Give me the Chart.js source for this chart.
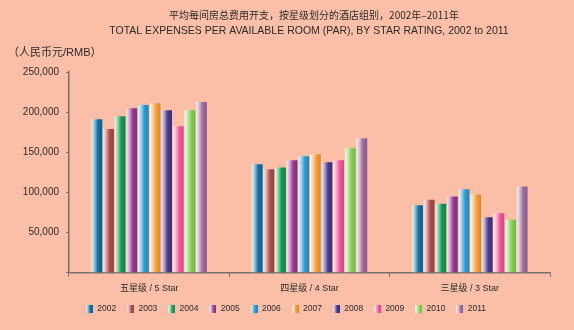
<!DOCTYPE html>
<html>
<head>
<meta charset="utf-8">
<script src="https://cdn.jsdelivr.net/npm/chart.js@4/dist/chart.umd.min.js"></script>
<style>
  html, body { margin: 0; padding: 0; background: #fbbea7; }
  #wrap { width: 574px; height: 330px; }
</style>
</head>
<body>
<div id="wrap"><canvas id="parChart"></canvas></div>
<script>
// categories / series
const categories = ["五星级 / 5 Star", "四星级 / 4 Star", "三星级 / 3 Star"];
const years = ["2002", "2003", "2004", "2005", "2006", "2007", "2008", "2009", "2010", "2011"];

// values per year: [5 star, 4 star, 3 star]  (RMB)
const v2002 = [191000, 135000, 84000];
const v2003 = [179000, 129000, 91000];
const v2004 = [195000, 131000, 86000];
const v2005 = [205000, 140000, 95000];
const v2006 = [209000, 145000, 104000];
const v2007 = [211000, 147500, 97500];
const v2008 = [202500, 137500, 69000];
const v2009 = [182500, 140000, 74000];
const v2010 = [202500, 155000, 66000];
const v2011 = [212500, 167500, 107500];
const seriesValues = [v2002, v2003, v2004, v2005, v2006, v2007, v2008, v2009, v2010, v2011];

const seriesColors = ["#1470a2", "#ad4c4a", "#17994f", "#973a90", "#2c9bd2",
                      "#f99c3c", "#4b3889", "#f25796", "#86d154", "#a06b9c"];

const yTicks = [0, 50000, 100000, 150000, 200000, 250000];

const titleZh = "平均每间房总费用开支，按星级划分的酒店组别，2002年–2011年";
const titleEn = "TOTAL EXPENSES PER AVAILABLE ROOM (PAR), BY STAR RATING, 2002 to 2011";
const unitText = "（人民币元/RMB）";

const textColor = "#2b2b2b";
const axisColor = "#7a6f6a";

function hexToRgb(h) {
  const n = parseInt(h.slice(1), 16);
  return [(n >> 16) & 255, (n >> 8) & 255, n & 255];
}
function mix(hex, t) {           // t = share of white
  const [r, g, b] = hexToRgb(hex);
  return `rgb(${Math.round(r + (255 - r) * t)},${Math.round(g + (255 - g) * t)},${Math.round(b + (255 - b) * t)})`;
}
function shade(hex, f) {
  const [r, g, b] = hexToRgb(hex);
  return `rgb(${Math.round(r * f)},${Math.round(g * f)},${Math.round(b * f)})`;
}
function addStops(g, base) {
  g.addColorStop(0, mix(base, 0.9));
  g.addColorStop(0.25, mix(base, 0.6));
  g.addColorStop(0.6, base);
  g.addColorStop(1, shade(base, 0.85));
}

// bars get a left-to-right gradient, like the original
function barFill(c) {
  const base = seriesColors[c.datasetIndex];
  const el = c.element;
  if (!el || !(el.width > 0)) return base;
  const g = c.chart.ctx.createLinearGradient(el.x - el.width / 2, 0, el.x + el.width / 2, 0);
  addStops(g, base);
  return g;
}

// small gradient swatches for the legend
const legendSwatches = seriesColors.map(col => {
  const cv = document.createElement("canvas");
  cv.width = 7; cv.height = 8;
  const cx = cv.getContext("2d");
  const g = cx.createLinearGradient(0, 0, 7, 0);
  addStops(g, col);
  cx.fillStyle = g;
  cx.fillRect(0, 0, 7, 8);
  return cv;
});

// titles and unit note sit off-centre in the original, so draw them here
const headerText = {
  id: "headerText",
  afterDraw(chart) {
    const ctx = chart.ctx;
    ctx.save();
    ctx.fillStyle = textColor;
    ctx.textBaseline = "middle";
    ctx.textAlign = "center";
    ctx.font = "10px 'Noto Sans CJK SC', 'Liberation Sans'";
    ctx.fillText(titleZh, 314, 15);
    ctx.font = "10.5px 'Liberation Sans'";
    ctx.fillText(titleEn, 309, 31);
    ctx.textAlign = "left";
    ctx.font = "11px 'Liberation Sans', 'Noto Sans CJK SC'";
    ctx.fillText(unitText, 8, 53);
    ctx.restore();
  }
};

const chart = new Chart(document.getElementById("parChart"), {
  type: "bar",
  data: {
    labels: categories,
    datasets: years.map((y, i) => ({
      label: y,
      data: seriesValues[i],
      backgroundColor: barFill,
      borderWidth: 0,
      categoryPercentage: 0.725,
      barPercentage: 0.93
    }))
  },
  options: {
    responsive: true,
    maintainAspectRatio: false,
    animation: false,
    layout: { padding: { left: 11, right: 13, top: 72, bottom: 7 } },
    plugins: {
      title: { display: false },
      legend: {
        position: "bottom",
        labels: {
          usePointStyle: true,
          boxWidth: 7,
          boxHeight: 9,
          padding: 11,
          color: textColor,
          font: { size: 8.5, family: "'Liberation Sans'" },
          generateLabels: (ch) => ch.data.datasets.map((ds, i) => ({
            text: ds.label,
            pointStyle: legendSwatches[i],
            fillStyle: seriesColors[i],
            strokeStyle: "transparent",
            lineWidth: 0,
            fontColor: textColor,
            hidden: !ch.isDatasetVisible(i),
            datasetIndex: i
          }))
        }
      },
      tooltip: { enabled: false }
    },
    scales: {
      x: {
        afterFit: (s) => { s.height -= 6; },
        grid: { offset: true, drawOnChartArea: false, tickLength: 4, color: axisColor },
        border: { color: axisColor, width: 1.5 },
        ticks: {
          color: textColor,
          padding: 6,
          font: { size: 9, family: "'Liberation Sans', 'Noto Sans CJK SC'" }
        }
      },
      y: {
        min: yTicks[0],
        max: yTicks[yTicks.length - 1],
        afterFit: (s) => { s.width = 58; },
        afterBuildTicks: (s) => { s.ticks = yTicks.map(v => ({ value: v })); },
        grid: { drawOnChartArea: false, tickLength: 3, color: axisColor },
        border: { color: axisColor, width: 1.5 },
        ticks: {
          color: textColor,
          padding: 7,
          font: { size: 10, family: "'Liberation Sans'" },
          callback: (v) => v === 0 ? "" : v.toLocaleString("en-US")
        }
      },
      // empty spacer on the right so the plot ends where the original's does
      spacer: {
        type: "linear",
        position: "right",
        afterFit: (s) => { s.width = 11; },
        grid: { display: false },
        border: { display: false },
        ticks: { display: false }
      }
    }
  },
  plugins: [headerText]
});

// second pass so the bar gradients can use the laid-out bar positions
chart.update();
</script>
</body>
</html>
